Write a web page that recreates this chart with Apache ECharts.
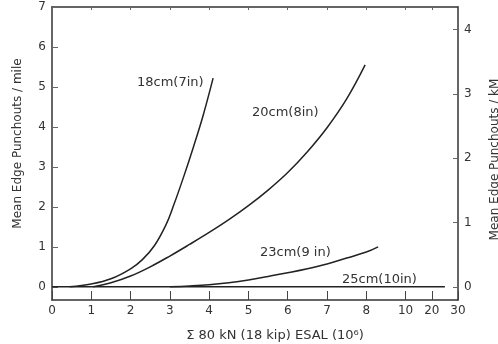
<!DOCTYPE html>
<html>
<head>
<meta charset="utf-8">
<script src="https://cdn.jsdelivr.net/npm/echarts@6/dist/echarts.min.js"></script>
<style>
  html, body { margin: 0; padding: 0; background: #fff; }
  #graph { width: 498px; height: 344px; }
</style>
</head>
<body>
<div id="graph"></div>
<script>
// ESAL (millions) tick labels on the broken x scale
var esalTicks = [0, 1, 2, 3, 4, 5, 6, 7, 8, 10, 20, 30];
var mileTicks = [0, 1, 2, 3, 4, 5, 6, 7];
var kmTicks = [0, 1, 2, 3, 4];

// curves: [ESAL (10^6), punchouts per mile]
var slab18 = [[0.45, 0], [1.0, 0.07], [1.5, 0.2], [2.0, 0.45], [2.3, 0.68], [2.6, 1.02],
              [2.9, 1.55], [3.1, 2.05], [3.35, 2.75], [3.6, 3.5], [3.85, 4.3], [4.1, 5.22]];
var slab20 = [[1.05, 0], [1.5, 0.1], [2.0, 0.27], [2.5, 0.5], [3.0, 0.77], [3.5, 1.06],
              [4.0, 1.36], [4.5, 1.68], [5.0, 2.03], [5.5, 2.42], [6.0, 2.86], [6.5, 3.38],
              [7.0, 3.98], [7.5, 4.7], [7.97, 5.55]];
var slab23 = [[3.0, 0], [3.5, 0.02], [4.0, 0.05], [4.5, 0.1], [5.0, 0.17], [5.5, 0.26],
              [6.0, 0.35], [6.5, 0.45], [7.0, 0.57], [7.5, 0.72], [8.0, 0.87], [8.6, 1.0]];
var slab25 = [[0, 0], [25, 0]];

var MILE_PER_KM = 1.609;

// broken axis: linear to 8, then 8-10 squeezed, then 10-30 compressed
function pos(v) {
    if (v <= 8) return v;
    if (v <= 10) return 8 + (v - 8) / 2;
    return 9 + (v - 10) / 15;
}
function conv(arr) {
    return arr.map(function (p) { return [pos(p[0]), p[1]]; });
}
var tickPos = esalTicks.map(pos);

var txt = '#333';
var font = 'DejaVu Sans';

var dom = document.getElementById("graph");
var myChart = echarts.init(dom);

function lineSeries(name, data) {
    return {
        name: name,
        type: 'line',
        data: conv(data),
        smooth: 0.4,
        showSymbol: false,
        lineStyle: { color: '#222', width: 1.5 },
        xAxisIndex: 0,
        yAxisIndex: 0,
        z: 3
    };
}

option = {
    animation: false,
    textStyle: { fontFamily: font },
    grid: { left: 52, right: 40, top: 7, bottom: 44, containLabel: false, outerBoundsMode: 'none' },
    xAxis: [{
        type: 'value',
        min: 0,
        max: pos(30),
        position: 'bottom',
        name: 'Σ 80 kN (18 kip) ESAL (10⁶)',
        nameLocation: 'middle',
        nameGap: 29,
        nameTextStyle: { color: txt, fontSize: 13, fontFamily: font, padding: [0, 0, 0, 40] },
        axisLine: { onZero: false, lineStyle: { color: '#333', width: 1.5 } },
        axisTick: { inside: true, length: 9, customValues: tickPos, lineStyle: { color: '#444' } },
        axisLabel: {
            customValues: tickPos,
            color: txt,
            fontSize: 12,
            margin: 5,
            formatter: function (v) {
                var best = 0;
                for (var i = 0; i < tickPos.length; i++) {
                    if (Math.abs(tickPos[i] - v) < Math.abs(tickPos[best] - v)) best = i;
                }
                return String(esalTicks[best]);
            }
        },
        splitLine: { show: false }
    }, {
        type: 'value',
        min: 0,
        max: pos(30),
        position: 'top',
        axisLine: { onZero: false, lineStyle: { color: '#333', width: 1.5 } },
        axisTick: { inside: true, length: 3, customValues: tickPos, lineStyle: { color: '#666' } },
        axisLabel: { show: false },
        splitLine: { show: false }
    }],
    yAxis: [{
        type: 'value',
        min: -0.33,
        max: 7,
        position: 'left',
        name: 'Mean Edge Punchouts / mile',
        nameLocation: 'middle',
        nameGap: 28,
        nameTextStyle: { color: txt, fontSize: 12, fontFamily: font, padding: [0, 0, 0, 20] },
        axisLine: { show: true, onZero: false, lineStyle: { color: '#333', width: 1.5 } },
        axisTick: { show: true, inside: true, length: 6, customValues: mileTicks, lineStyle: { color: '#666' } },
        axisLabel: { customValues: mileTicks, color: txt, fontSize: 12, margin: 6 },
        splitLine: { show: false }
    }, {
        type: 'value',
        min: -0.33 / MILE_PER_KM,
        max: 7 / MILE_PER_KM,
        position: 'right',
        name: 'Mean Edge Punchouts / kM',
        nameLocation: 'middle',
        nameGap: 31,
        nameRotate: 90,
        nameTextStyle: { color: txt, fontSize: 12, fontFamily: font, padding: [0, 12, 0, 0] },
        axisLine: { show: true, onZero: false, lineStyle: { color: '#333', width: 1.5 } },
        axisTick: { show: true, inside: true, length: 5, customValues: kmTicks, lineStyle: { color: '#666' } },
        axisLabel: { customValues: kmTicks, color: txt, fontSize: 12, margin: 6 },
        splitLine: { show: false }
    }],
    series: [
        lineSeries('18cm(7in)', slab18),
        lineSeries('20cm(8in)', slab20),
        lineSeries('23cm(9 in)', slab23),
        lineSeries('25cm(10in)', slab25)
    ],
    graphic: [
        { type: 'text', left: 137, top: 76, style: { text: '18cm(7in)', fill: txt, font: '13px ' + font } },
        { type: 'text', left: 252, top: 106, style: { text: '20cm(8in)', fill: txt, font: '13px ' + font } },
        { type: 'text', left: 260, top: 246, style: { text: '23cm(9 in)', fill: txt, font: '13px ' + font } },
        { type: 'text', left: 342, top: 273, style: { text: '25cm(10in)', fill: txt, font: '13px ' + font } }
    ]
};
myChart.setOption(option, true);
</script>
</body>
</html>
